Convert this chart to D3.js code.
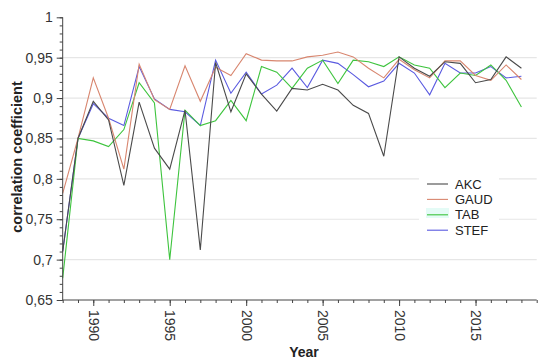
<!DOCTYPE html>
<html><head><meta charset="utf-8">
<script src="https://cdn.jsdelivr.net/npm/d3@7"></script>
<style>body{margin:0;background:#fff}svg{display:block;font-family:"Liberation Sans",Arial,sans-serif}</style>
</head><body>
<script>
const years = d3.range(1988, 2019);
const AKC  = [0.710,0.850,0.896,0.873,0.792,0.895,0.838,0.812,0.885,0.712,0.944,0.883,0.930,0.905,0.884,0.912,0.910,0.917,0.910,0.891,0.881,0.828,0.951,0.937,0.927,0.945,0.943,0.919,0.923,0.951,0.937];
const GAUD = [0.782,0.850,0.925,0.875,0.812,0.942,0.898,0.886,0.940,0.896,0.938,0.928,0.955,0.947,0.946,0.946,0.951,0.953,0.957,0.951,0.937,0.925,0.948,0.935,0.925,0.946,0.946,0.928,0.922,0.941,0.923];
const TAB  = [0.677,0.850,0.847,0.840,0.861,0.919,0.894,0.700,0.885,0.866,0.872,0.897,0.872,0.939,0.932,0.912,0.937,0.947,0.918,0.947,0.945,0.939,0.951,0.941,0.937,0.913,0.931,0.928,0.941,0.922,0.889];
const STEF = [0.710,0.850,0.893,0.875,0.866,0.939,0.899,0.886,0.883,0.866,0.947,0.906,0.932,0.905,0.916,0.937,0.913,0.947,0.943,0.929,0.914,0.921,0.943,0.931,0.904,0.943,0.931,0.931,0.939,0.925,0.927];
const seriesNames = ["AKC","GAUD","TAB","STEF"];
const seriesColors = ["#4a4a4a","#d8866f","#3ec43e","#5a5ae0"];
const yTicks = [0.65,0.7,0.75,0.8,0.85,0.9,0.95,1];
const xTicks = [1990,1995,2000,2005,2010,2015];
const xLabel = "Year", yLabel = "correlation coefficient";

const W = 550, H = 364;
const svg = d3.select("body").append("svg").attr("width", W).attr("height", H);
const x = d3.scaleLinear().domain([1988, 2019]).range([62.7, 536.7]);
const y = d3.scaleLinear().domain([0.65, 1]).range([300, 17.3]);
const fmt = d => String(+d.toFixed(2)).replace(".", ",");

// gridlines
svg.append("g").selectAll("line").data(yTicks.filter(v => v > 0.66 && v < 0.99)).join("line")
  .attr("x1", x(1988)).attr("x2", x(2019)).attr("y1", d => y(d)).attr("y2", d => y(d))
  .attr("stroke", "#e6e6e6").attr("stroke-width", 1.2);

// series
const series = [AKC, GAUD, TAB, STEF];
const line = d3.line().x((d, i) => x(years[i])).y(d => y(d));
[3,2,1,0].forEach(k => {
  svg.append("path").datum(series[k]).attr("d", line)
    .attr("fill", "none").attr("stroke", seriesColors[k]).attr("stroke-width", 1.1);
});

// axes
const axColor = "#444";
const gy = svg.append("g").attr("transform", `translate(${x(1988)},0)`);
gy.call(d3.axisLeft(y).tickValues(d3.range(65, 101).map(v => v / 100)).tickSize(3).tickFormat(""));
const gy2 = svg.append("g").attr("transform", `translate(${x(1988)},0)`);
gy2.call(d3.axisLeft(y).tickValues(yTicks).tickSize(6).tickPadding(4).tickFormat(fmt));
const gx = svg.append("g").attr("transform", `translate(0,${y(0.65)})`);
gx.call(d3.axisBottom(x).tickValues(d3.range(1988, 2020)).tickSize(3).tickFormat(""));
const gx2 = svg.append("g").attr("transform", `translate(0,${y(0.65)})`);
gx2.call(d3.axisBottom(x).tickValues(xTicks).tickSize(6).tickFormat(d3.format("d")));
gx2.selectAll("text").attr("transform", "rotate(90)").attr("x", 10).attr("y", 0)
  .attr("dy", "0.35em").attr("text-anchor", "start");
[gy, gy2, gx, gx2].forEach(g => {
  g.selectAll("path,line").attr("stroke", axColor);
  g.selectAll("text").attr("fill", "#333").style("font-size", "14px").style("font-family", '"Liberation Sans",Arial,sans-serif');
});
gy2.select("path").remove(); gx2.select("path").remove();
gy.select("path").attr("d", `M0,${y(0.65)}V${y(1)}`);
gx.select("path").attr("d", `M${x(1988)},0H${x(2019)}`);

// axis titles
svg.append("text").attr("x", 304).attr("y", 357).attr("text-anchor", "middle")
  .style("font-size", "14px").style("font-weight", "bold").attr("fill", "#222").text(xLabel);
svg.append("text").attr("transform", "translate(22,157) rotate(-90)").attr("text-anchor", "middle")
  .style("font-size", "14.5px").style("font-weight", "bold").attr("fill", "#222").text(yLabel);

// legend
const lg = svg.append("g");
lg.append("rect").attr("x", 419).attr("y", 172).attr("width", 80).attr("height", 70).attr("fill", "#fff");
lg.append("rect").attr("x", 426).attr("y", 208).attr("width", 23).attr("height", 10).attr("fill", "#e4fbf6");
seriesNames.forEach((n, i) => {
  const cy = 184 + i * 15.4;
  lg.append("line").attr("x1", 427).attr("x2", 448).attr("y1", cy).attr("y2", cy)
    .attr("stroke", seriesColors[i]).attr("stroke-width", 1.1);
  lg.append("text").attr("x", 455).attr("y", cy + 4.6).style("font-size", "13px").attr("fill", "#222").text(n);
});
</script>
</body></html>
